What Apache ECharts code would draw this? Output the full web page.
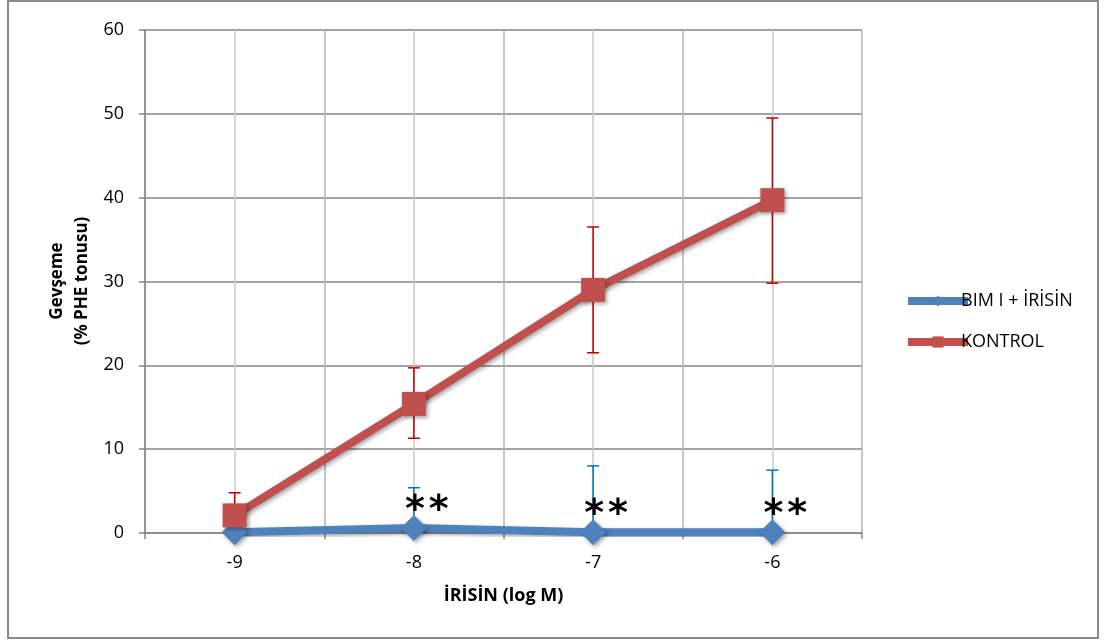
<!DOCTYPE html>
<html>
<head>
<meta charset="utf-8">
<script src="https://cdn.jsdelivr.net/npm/echarts@6/dist/echarts.min.js"></script>
<style>
  html, body { margin: 0; padding: 0; background: #fff; }
  #chart { width: 1105px; height: 643px; }
</style>
</head>
<body>
<div id="chart"></div>
<script>
// categories (log M)
let doses = ['-9', '-8', '-7', '-6'];

// BIM I + IRISIN
let bimMean = [0.1, 0.6, 0.1, 0.1];
let bimUpper = [0.1, 5.4, 8.0, 7.5];
let bimStars = ['', '*\u200A*', '*\u200A*', '*\u200A*'];

// KONTROL
let kontrolMean = [2.1, 15.4, 29.0, 39.7];
let kontrolLower = [2.1, 11.3, 21.5, 29.8];
let kontrolUpper = [4.8, 19.7, 36.5, 49.5];

let yTicks = [0, 10, 20, 30, 40, 50, 60];

const FONT = 'Open Sans';

/**
 * error bar drawing (vertical line with a cap on the ends that differ from the mean)
 */
function errorBarSeries(name, means, lows, highs, color) {
    let rows = doses.map((d, i) => [i, lows[i], highs[i], means[i]]);
    return {
        type: 'custom',
        name: name,
        silent: true,
        z: 3,
        data: rows,
        renderItem: function (params, api) {
            let x = api.value(0);
            let lo = api.coord([x, api.value(1)]);
            let hi = api.coord([x, api.value(2)]);
            let capW = 6;
            let children = [{
                type: 'line',
                shape: {x1: lo[0], y1: lo[1], x2: hi[0], y2: hi[1]},
                style: {stroke: color, lineWidth: 1.5}
            }];
            if (api.value(2) !== api.value(3)) {
                children.push({
                    type: 'line',
                    shape: {x1: hi[0] - capW, y1: hi[1], x2: hi[0] + capW, y2: hi[1]},
                    style: {stroke: color, lineWidth: 1.5}
                });
            }
            if (api.value(1) !== api.value(3)) {
                children.push({
                    type: 'line',
                    shape: {x1: lo[0] - capW, y1: lo[1], x2: lo[0] + capW, y2: lo[1]},
                    style: {stroke: color, lineWidth: 1.5}
                });
            }
            return {type: 'group', children: children};
        }
    };
}

let chart = echarts.init(document.getElementById('chart'));

let shadow = {shadowBlur: 4, shadowColor: 'rgba(0,0,0,0.35)', shadowOffsetX: 2, shadowOffsetY: 2};

let option = {
    animation: false,
    backgroundColor: '#fff',
    textStyle: {fontFamily: FONT},
    graphic: [{
        type: 'rect',
        shape: {x: 8, y: 1, width: 1090, height: 637},
        style: {fill: 'none', stroke: '#8a8a8a', lineWidth: 2},
        silent: true
    }, {
        type: 'text',
        x: 70,
        y: 281,
        rotation: Math.PI / 2,
        style: {
            text: 'Gevşeme\n(% PHE tonusu)',
            font: 'bold 17px "' + FONT + '"',
            fill: '#000',
            align: 'center',
            verticalAlign: 'middle',
            lineHeight: 25
        }
    }],
    grid: {left: 145, right: 243, top: 30, bottom: 110},
    legend: {
        orient: 'vertical',
        left: 899,
        top: 287,
        itemWidth: 60,
        itemHeight: 14,
        itemGap: 23,
        lineStyle: {width: 8},
        textStyle: {fontFamily: FONT, fontSize: 18, color: '#000', padding: [0, 0, 0, -12]},
        data: ['BIM I + İRİSİN', 'KONTROL']
    },
    xAxis: {
        type: 'category',
        data: doses,
        boundaryGap: true,
        name: 'İRİSİN (log M)',
        nameLocation: 'middle',
        nameGap: 54,
        nameTextStyle: {fontFamily: FONT, fontWeight: 'bold', fontSize: 18, color: '#000'},
        axisLine: {lineStyle: {color: '#868686', width: 1.5}},
        axisTick: {show: true, length: 6, lineStyle: {color: '#868686', width: 1.5}},
        axisLabel: {fontFamily: FONT, fontSize: 18, color: '#000', margin: 21},
        splitLine: {show: true, lineStyle: {color: '#b4b4b4', width: 1.5}}
    },
    yAxis: {
        type: 'value',
        min: yTicks[0],
        max: yTicks[yTicks.length - 1],
        interval: 10,
        axisLine: {show: true, lineStyle: {color: '#868686', width: 1.5}},
        axisTick: {show: true, length: 6, lineStyle: {color: '#868686', width: 1.5}},
        axisLabel: {fontFamily: FONT, fontSize: 18, color: '#000', margin: 21},
        splitLine: {show: true, lineStyle: {color: '#868686', width: 1.5}}
    },
    series: [
        {
            type: 'line',
            name: 'BIM I + İRİSİN',
            data: bimMean,
            z: 4,
            symbol: 'diamond',
            symbolSize: 26,
            color: '#4F81BD',
            lineStyle: Object.assign({width: 8, color: '#4F81BD'}, shadow),
            itemStyle: Object.assign({color: '#4F81BD'}, shadow),
            label: {
                show: true,
                position: 'top',
                distance: 0,
                offset: [13, 15],
                formatter: p => bimStars[p.dataIndex],
                fontFamily: 'DejaVu Sans',
                fontWeight: 'bold',
                fontSize: 38,
                color: '#000'
            },
            markLine: {
                silent: true,
                symbol: 'none',
                label: {show: false},
                lineStyle: {color: '#c8c8c8', type: 'solid', width: 1.5},
                z: 0,
                data: doses.map(d => ({xAxis: d}))
            }
        },
        errorBarSeries('bimErr', bimMean, bimMean, bimUpper, '#0070C0'),
        errorBarSeries('kontrolErr', kontrolMean, kontrolLower, kontrolUpper, '#C00000'),
        {
            type: 'line',
            name: 'KONTROL',
            data: kontrolMean,
            z: 5,
            symbol: 'rect',
            symbolSize: 24,
            color: '#C0504D',
            lineStyle: Object.assign({width: 8, color: '#C0504D'}, shadow),
            itemStyle: Object.assign({color: '#C0504D'}, shadow)
        }
    ]
};

chart.setOption(option);
</script>
</body>
</html>
